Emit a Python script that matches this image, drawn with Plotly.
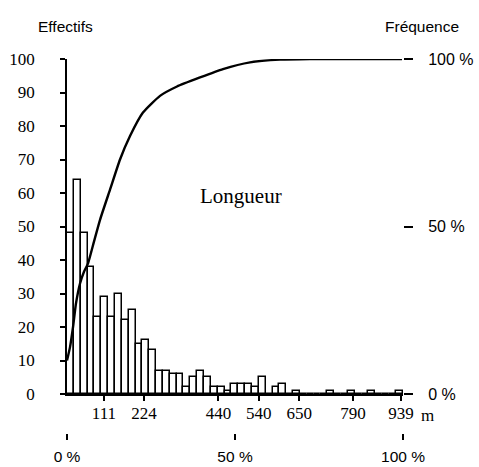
import plotly.graph_objects as go

# Histogram counts per length class (Effectifs), one value per class
bin_counts = [48, 64, 48, 38, 23, 29, 23, 30, 22, 25,
              15, 16, 13, 7, 7, 6, 6, 2, 5, 7,
              5, 2, 2, 1, 3, 3, 3, 2, 5, 0,
              2, 3, 0, 1, 0, 0, 0, 0, 1, 0,
              0, 1, 0, 0, 1, 0, 0, 0, 1]

# Length tick labels (m) and their positions in class units
length_labels = ["111", "224", "440", "540", "650", "790", "939"]
length_pos = [5.4, 11.24, 22.1, 28.0, 33.9, 41.75, 48.76]

# Cumulative frequency curve (class units, %)
cum_x = [0, 0.44, 0.88, 1.31, 1.90, 2.48, 3.07, 3.94, 4.82, 6.28, 7.74, 9.20,
         11.09, 13.58, 16.06, 19.42, 22.77, 26.72, 31.1, 35.47, 48.9]
cum_pct = [10, 14, 20, 27, 33, 36.5, 39, 45.5, 52, 61, 70, 77,
           84, 89, 91.8, 94.5, 97, 99, 99.8, 100, 100]

# Bottom percentage axis
pct_ticks = [0, 50, 100]
pct_labels = ["0 %", "50 %", "100 %"]

n = len(bin_counts)
xmax = 49.05

fig = go.Figure()
fig.add_trace(go.Bar(
    x=[i + 0.5 for i in range(n)], y=bin_counts, width=1,
    marker=dict(color="white", line=dict(color="black", width=1.5)),
    showlegend=False, hoverinfo="skip"))
fig.add_trace(go.Scatter(
    x=cum_x, y=cum_pct, mode="lines", yaxis="y2",
    line=dict(color="black", width=2.4, shape="spline", smoothing=0.5),
    showlegend=False, hoverinfo="skip"))
fig.add_trace(go.Scatter(
    x=[0, 100], y=[0, 0], xaxis="x2", mode="markers",
    marker=dict(opacity=0), showlegend=False, hoverinfo="skip"))

serif = "Liberation Serif, Times New Roman, serif"
sans = "Liberation Sans, Arial, sans-serif"

H_TOP, H_BOT = 59, 433
ydom0 = (H_BOT - 394) / (H_BOT - H_TOP)


def py(p):
    return (H_BOT - p) / (H_BOT - H_TOP)


def px(p):
    return (p - 67) / 336


fig.update_layout(
    width=479, height=467,
    margin=dict(l=67, r=76, t=H_TOP, b=467 - H_BOT, pad=0, autoexpand=False),
    plot_bgcolor="white", paper_bgcolor="white",
    bargap=0,
    xaxis=dict(range=[0, xmax], anchor="y", showgrid=False, zeroline=False,
               automargin=False,
               showline=True, linecolor="black", linewidth=1.5,
               ticks="outside", ticklen=5, tickwidth=1.5, tickcolor="black",
               tickvals=length_pos, ticktext=length_labels,
               tickfont=dict(family=serif, size=17, color="black"),
               ticklabelstandoff=-2),
    xaxis2=dict(range=[0, 100], overlaying="x", anchor="free", position=0,
                side="bottom", showgrid=False, zeroline=False, showline=False,
                automargin=False,
                ticks="outside", ticklen=6, tickwidth=1.5, tickcolor="black",
                tickvals=pct_ticks, ticktext=pct_labels,
                tickfont=dict(family=sans, size=15.5, color="black"),
                ticklabelstandoff=3),
    yaxis=dict(range=[0, 100], domain=[ydom0, 1], showgrid=False, zeroline=False,
               automargin=False,
               showline=True, linecolor="black", linewidth=1.5,
               ticks="outside", ticklen=5, tickwidth=1.5, tickcolor="black",
               tickvals=list(range(0, 101, 10)),
               tickfont=dict(family=serif, size=17, color="black"),
               ticklabelstandoff=22),
    yaxis2=dict(range=[0, 100], overlaying="y", side="right", anchor="x",
                showgrid=False, zeroline=False, showline=False,
                automargin=False,
                ticks="outside", ticklen=9, tickwidth=1.5, tickcolor="black",
                tickvals=pct_ticks, ticktext=pct_labels,
                tickfont=dict(family=sans, size=16, color="black"),
                ticklabelstandoff=12),
    annotations=[
        dict(text="Effectifs", xref="paper", yref="paper",
             x=px(65), y=py(26), xanchor="center", yanchor="middle",
             showarrow=False, font=dict(family=sans, size=15.5, color="black")),
        dict(text="Fréquence", xref="paper", yref="paper",
             x=px(422), y=py(26), xanchor="center", yanchor="middle",
             showarrow=False, font=dict(family=sans, size=15.5, color="black")),
        dict(text="Longueur", xref="x", yref="y", x=25.4, y=59,
             xanchor="center", yanchor="middle",
             showarrow=False, font=dict(family=serif, size=21, color="black")),
        dict(text="m", xref="paper", yref="paper",
             x=px(427), y=py(415), xanchor="center", yanchor="middle",
             showarrow=False, font=dict(family=serif, size=17, color="black")),
    ],
)

fig.write_html(
    "out.html",
    config={"displayModeBar": False},
    post_script="document.body.style.margin='0';document.body.style.padding='0';"
                "document.body.style.overflow='hidden';",
)
